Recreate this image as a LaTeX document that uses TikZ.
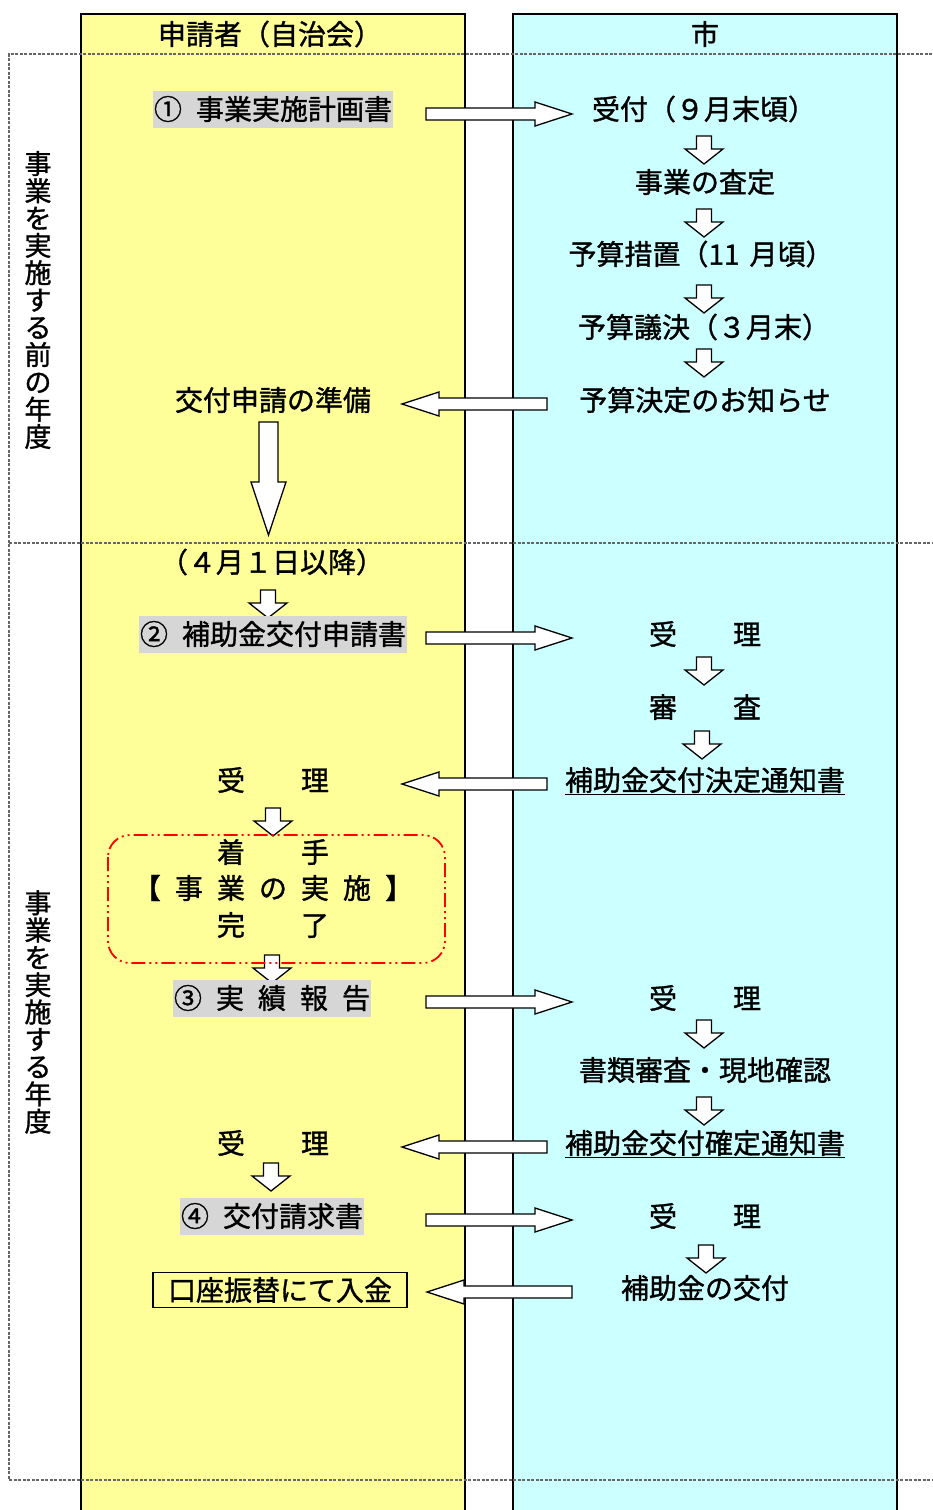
\documentclass[tikz,border=0pt]{standalone}
\usepackage{fontspec}
\setmainfont{Noto Sans CJK JP}[FakeBold=1.2]
\definecolor{yel}{HTML}{FFFF99}
\definecolor{cya}{HTML}{CCFFFF}
\definecolor{gbg}{HTML}{D6D6D6}
\definecolor{dgray}{HTML}{666666}
\newcommand\fs{\fontsize{28}{30}\selectfont}
\newcommand\gp{\hspace{14pt}}
\newcommand\darr[2]{\draw[blk] (#1,#2) ++(-7.5,0) -- ++(15,0) -- ++(0,13) -- ++(11.5,0) -- ++(-19,15) -- ++(-19,-15) -- ++(11.5,0) -- cycle;}
\newcommand\rarr[2]{\draw[blk] (#1,#2) ++(0,-6) -- ++(109,0) -- ++(0,-6) -- ++(37,12) -- ++(-37,12) -- ++(0,-6) -- ++(-109,0) -- cycle;}
\newcommand\larr[2]{\draw[blk] (#1,#2) ++(0,-6) -- ++(-108,0) -- ++(0,-6) -- ++(-37,12) -- ++(37,12) -- ++(0,-6) -- ++(108,0) -- cycle;}
\begin{document}
\begin{tikzpicture}[x=1pt,y=-1pt,
  txt/.style={font=\fs, inner sep=0pt, anchor=center},
  gbox/.style={txt, fill=gbg, inner xsep=1pt, minimum height=37pt},
  vlab/.style={font=\fontsize{27}{27.3}\selectfont, inner sep=0pt, align=center},
  blk/.style={draw=black, fill=white, line width=1.3pt, line join=miter},
  col/.style={line width=1.6pt},
  dsh/.style={dgray, line width=1.1pt, dash pattern=on 3pt off 1.5pt},
  uline/.style={line width=1.3pt}]
\useasboundingbox (0,0) rectangle (932,1510);
% columns
\fill[yel] (81,14) rectangle (465,1510);
\fill[cya] (513,14) rectangle (897,1510);
\draw[col] (81,1510) -- (81,14) -- (465,14) -- (465,1510);
\draw[col] (513,1510) -- (513,14) -- (897,14) -- (897,1510);
\node[txt] (h1) at (270,34) {申請者（自治会）};
\node[txt] (h2) at (705,34) {市};
% dashed frames
\draw[dsh] (932,54) -- (9,54) -- (9,1480) -- (932,1480);
\draw[dsh] (9,543) -- (932,543);
\node[vlab] (v1) at (38,300) {事\\業\\を\\実\\施\\す\\る\\前\\の\\年\\度};
\node[vlab] (v2) at (38,1012) {事\\業\\を\\実\\施\\す\\る\\年\\度};
% left column
\node[gbox] (l1) at (273,109) {①\gp 事業実施計画書};
\node[txt] (l2) at (273,400) {交付申請の準備};
\draw[blk] (268.5,422) ++(-9.5,0) -- ++(19,0) -- ++(0,60) -- ++(8,0) -- ++(-17.5,53) -- ++(-17.5,-53) -- ++(8,0) -- cycle;
\node[txt] (l3) at (272,562) {（４月１日以降）};
\darr{268}{590}
\node[gbox] (l4) at (273,634) {②\gp 補助金交付申請書};
\node[txt] (l5) at (273,780) {受　　理};
\darr{273}{808}
\node[txt] (l6) at (273,852) {着　　手};
\node[txt] (l7) at (273,888) {【\gp 事\gp 業\gp の\gp 実\gp 施\gp 】};
\node[txt] (l8) at (273,925) {完　　了};
\darr{272}{955}
\draw[red, line width=1.8pt, rounded corners=22pt, dash pattern=on 14pt off 4pt on 2pt off 4pt on 2pt off 4pt] (108,835) rectangle (445,963);
\node[gbox] (l9) at (272,998) {③\gp 実\gp 績\gp 報\gp 告};
\node[txt] (l10) at (273,1143) {受　　理};
\darr{271}{1163}
\node[gbox] (l11) at (272,1216) {④\gp 交付請求書};
\node[txt, draw=black, line width=1.3pt, fill=yel, minimum width=254pt, minimum height=35pt] (l12) at (280,1290) {口座振替にて入金};
% right column
\node[txt] (r1) at (704,109) {受付（９月末頃）};
\darr{704}{136}
\node[txt] (r2) at (705,182) {事業の査定};
\darr{704}{209}
\node[txt] (r3) at (701,254) {予算措置（11\hspace{10pt}月頃）};
\darr{704}{285}
\node[txt] (r4) at (704,327) {予算議決（３月末）};
\darr{704}{349}
\node[txt] (r5) at (705,400) {予算決定のお知らせ};
\node[txt] (r6) at (705,634) {受　　理};
\darr{704}{657}
\node[txt] (r7) at (705,707) {審　　査};
\darr{702}{731}
\node[txt] (r8) at (705,780) {補助金交付決定通知書};
\draw[uline] ([yshift=-4pt]r8.base west) -- ([yshift=-4pt]r8.base east);
\node[txt] (r9) at (705,998) {受　　理};
\darr{704}{1020}
\node[txt] (r10) at (705,1070) {書類審査・現地確認};
\darr{704}{1097}
\node[txt] (r11) at (705,1143) {補助金交付確定通知書};
\draw[uline] ([yshift=-4pt]r11.base west) -- ([yshift=-4pt]r11.base east);
\node[txt] (r12) at (705,1216) {受　　理};
\darr{706}{1245}
\node[txt] (r13) at (705,1288) {補助金の交付};
% horizontal block arrows
\rarr{426}{114}
\rarr{426}{638}
\rarr{426}{1002}
\rarr{426}{1220}
\larr{547}{404}
\larr{547}{784}
\larr{547}{1147}
\larr{572}{1292}
\end{tikzpicture}
\end{document}
